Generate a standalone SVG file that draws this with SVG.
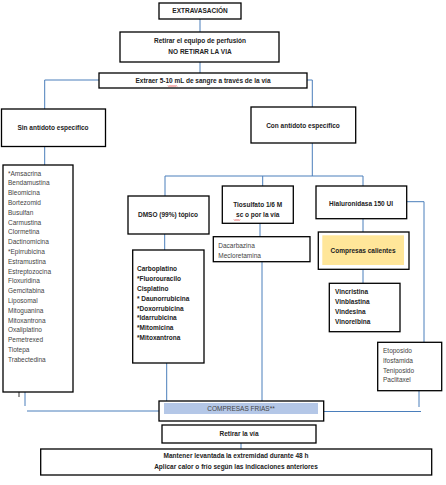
<svg xmlns="http://www.w3.org/2000/svg" width="446" height="485" viewBox="0 0 446 485">
<style>
.box{fill:#fff;stroke:#000;stroke-width:1.3}
.ln{fill:none;stroke:#4a7ebb;stroke-width:1}
text{font-family:"Liberation Sans",Arial,sans-serif;font-size:6.5px;fill:#222}
.b{font-weight:bold}
.c{text-anchor:middle}
.g{fill:#444}
.sq{fill:none;stroke:#e02020;stroke-width:0.7}
</style>
<rect width="446" height="485" fill="#fff"/>
<g id="connectors">
<path class="ln" d="M200,19V32M200,62V73"/>
<path class="ln" d="M99,80H44.7V109M307,80H312.3V107"/>
<path class="ln" d="M44.7,147V165"/>
<path class="ln" d="M312.3,143V176M165,176H363M165,176V196M262.7,176V186M363,176V186"/>
<path class="ln" d="M164.7,234V250M166.7,363V401"/>
<path class="ln" d="M260,223V236.7M262,262V401"/>
<path class="ln" d="M363,219V232M363,269V283"/>
<path class="ln" d="M407,201.7H424V342"/>
<path class="ln" d="M25,392V406M27,411H159"/>
<path class="ln" d="M419,391V407M324,411.5H421"/>
<path class="ln" d="M241,443V449"/>
<path d="M19,388V397" stroke="#000" stroke-width="0.8"/>
</g>
<g id="n-extravasacion">
<rect class="box" x="159" y="3" width="82" height="16"/>
<text class="b c" x="200" y="13.3">EXTRAVASACIÓN</text>
</g>
<g id="n-retirar-equipo">
<rect class="box" x="120" y="32" width="159" height="30"/>
<text class="b c" x="200" y="43.3" fill="#333">Retirar el equipo de perfusión</text>
<text class="b c" x="200" y="53.5">NO RETIRAR LA VIA</text>
</g>
<g id="n-extraer">
<rect class="box" x="99" y="73" width="208" height="15"/>
<text class="b c" x="203" y="83.3">Extraer 5-10 mL de sangre a través de la vía</text>
<path class="sq" d="M168,85.5l1,1l1,-1l1,1l1,-1l1,1l1,-1l1,1l1,-1l1,1"/>
</g>
<g id="n-sin">
<rect class="box" x="1.5" y="109" width="104" height="37.5"/>
<text class="b c" x="53" y="130">Sin antídoto específico</text>
</g>
<g id="n-con">
<rect class="box" x="251" y="107" width="104.7" height="36"/>
<text class="b c" x="303" y="127.5">Con antídoto específico</text>
</g>
<g id="n-sin-lista">
<rect class="box" x="3" y="165" width="70" height="227"/>
<text class="g" x="8" y="175.5">*Amsacrina</text>
<text class="g" x="8" y="185.3">Bendamustina</text>
<text class="g" x="8" y="195.1">Bleomicina</text>
<text class="g" x="8" y="204.9">Bortezomid</text>
<text class="g" x="8" y="214.7">Busulfan</text>
<text class="g" x="8" y="224.5">Carmustina</text>
<text class="g" x="8" y="234.3">Clormetina</text>
<text class="g" x="8" y="244.1">Dactinomicina</text>
<text class="g" x="8" y="253.9">*Epirrubicina</text>
<text class="g" x="8" y="263.7">Estramustina</text>
<text class="g" x="8" y="273.5">Estreptozocina</text>
<text class="g" x="8" y="283.3">Floxuridina</text>
<text class="g" x="8" y="293.1">Gemcitabina</text>
<text class="g" x="8" y="302.9">Liposomal</text>
<text class="g" x="8" y="312.7">Mitoguanina</text>
<text class="g" x="8" y="322.5">Mitoxantrona</text>
<text class="g" x="8" y="332.3">Oxaliplatino</text>
<text class="g" x="8" y="342.1">Pemetrexed</text>
<text class="g" x="8" y="351.9">Tiotepa</text>
<text class="g" x="8" y="361.7">Trabectedina</text>
</g>
<g id="n-dmso">
<rect class="box" x="128" y="196" width="81" height="38"/>
<text class="b c" x="168" y="216.5">DMSO (99%) tópico</text>
</g>
<g id="n-dmso-lista">
<rect class="box" x="132.7" y="250" width="71.3" height="113"/>
<text class="b" x="137" y="271.3">Carboplatino</text>
<text class="b" x="137" y="281.1">*Fluorouracilo</text>
<text class="b" x="137" y="290.9">Cisplatino</text>
<text class="b" x="137" y="300.7">* Daunorrubicina</text>
<text class="b" x="137" y="310.5">*Doxorrubicina</text>
<text class="b" x="137" y="320.3">*Idarrubicina</text>
<text class="b" x="137" y="330.1">*Mitomicina</text>
<text class="b" x="137" y="339.9">*Mitoxantrona</text>
</g>
<g id="n-tiosulfato">
<rect class="box" x="222.3" y="186" width="71" height="37.3"/>
<text class="b c" x="257.7" y="206.6">Tiosulfato 1/6  M</text>
<text class="b c" x="257.7" y="217.3">sc o por la vía</text>
<path class="sq" d="M234,219.5l1,1l1,-1l1,1l1,-1l1,1l1,-1"/>
</g>
<g id="n-tiosulfato-lista">
<rect class="box" x="213.3" y="236.7" width="96.7" height="25"/>
<text class="g" x="218.3" y="248.3">Dacarbazina</text>
<text class="g" x="218.3" y="257.6">Mecloretamina</text>
</g>
<g id="n-hialuronidasa">
<rect class="box" x="316" y="186" width="90.7" height="32.7"/>
<text class="b c" x="361" y="206.3">Hialuronidasa  150 UI</text>
</g>
<g id="n-compresas-calientes">
<rect class="box" x="318.3" y="232" width="90.7" height="37.3"/>
<rect x="322.3" y="235.3" width="81.7" height="29.7" fill="#ffe699"/>
<text class="b c" x="363" y="253">Compresas calientes</text>
</g>
<g id="n-vinca-lista">
<rect class="box" x="329.3" y="283.3" width="70.7" height="48.4"/>
<text class="b" x="335" y="294">Vincristina</text>
<text class="b" x="335" y="304">Vinblastina</text>
<text class="b" x="335" y="314">Vindesina</text>
<text class="b" x="335" y="324">Vinorelbina</text>
</g>
<g id="n-etoposido-lista">
<rect class="box" x="377.7" y="342.3" width="64" height="48.4"/>
<text class="g" x="383" y="353">Etoposido</text>
<text class="g" x="383" y="362.8">Ifosfamida</text>
<text class="g" x="383" y="372.6">Teniposido</text>
<text class="g" x="383" y="382.4">Paclitaxel</text>
</g>
<g id="n-compresas-frias">
<rect class="box" x="159" y="401" width="164.7" height="20"/>
<rect x="164" y="403" width="154" height="11" fill="#b4c7e7"/>
<text class="c g" x="241" y="411.3">COMPRESAS FRIAS**</text>
</g>
<g id="n-retirar-via">
<rect class="box" x="162" y="425" width="154" height="18"/>
<text class="b c" x="239" y="436.3">Retirar la vía</text>
</g>
<g id="n-mantener">
<rect class="box" x="40.7" y="449" width="391" height="26"/>
<text class="b c" x="236" y="458.3">Mantener levantada la extremidad durante 48 h</text>
<text class="b c" x="236" y="468.6">Aplicar calor o  frío según las indicaciones  anteriores</text>
</g>
</svg>
